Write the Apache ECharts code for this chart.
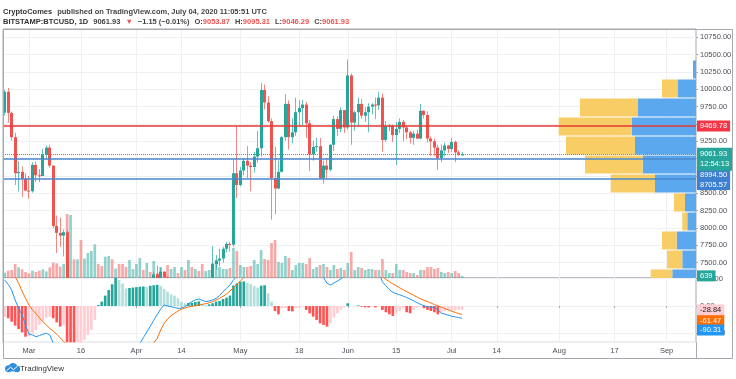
<!DOCTYPE html>
<html><head><meta charset="utf-8">
<script src="https://cdn.jsdelivr.net/npm/echarts@6/dist/echarts.min.js"></script>
<style>html,body{margin:0;padding:0;background:#fff}#c{width:736px;height:379px}</style>
</head><body><div id="c"></div>
<script>
// ---------- data (daily, 2020-02-23 .. 2020-07-04) ----------
const tickDates = ['2020-03-01','2020-03-16','2020-04-01','2020-04-14','2020-05-01','2020-05-18','2020-06-01','2020-06-15','2020-07-01','2020-07-14','2020-08-01','2020-08-17','2020-09-01'];
const tickTexts = ['Mar','16','Apr','14','May','18','Jun','15','Jul','14','Aug','17','Sep'];

const candleOpen = [
9663,9965,9660,9310,8790,8810,8710,8540,8530,8910,
8760,8750,9060,9160,8900,8030,7930,7890,7940,4860,
5620,5170,5360,5030,5330,5410,6190,6200,6190,5830,
6490,6770,6690,6750,6380,6260,5880,6400,6420,6650,
6810,6740,6870,6780,7330,7200,7370,7290,6860,6880,
6910,6850,6860,6620,7110,7040,7250,7130,6850,6870,
7130,7480,7530,7560,7700,7770,7760,8790,8620,8830,
8970,8900,8880,9030,9150,9990,9810,9540,8720,8570,
8810,9310,9790,9310,9380,9670,9730,9780,9510,9060,
9170,9180,8720,8900,8840,9200,9570,9430,9700,9450,
10200,9520,9670,9790,9620,9670,9750,9780,9770,9880,
9270,9465,9475,9340,9430,9530,9450,9380,9300,9360,
9290,9690,9630,9290,9250,9160,9010,9120,9190,9140,
9240,9090,9053.87];
const candleClose = [
9965,9660,9310,8790,8810,8710,8540,8530,8910,8760,
8750,9060,9160,8900,8030,7930,7890,7940,4860,5620,
5170,5360,5030,5330,5410,6190,6200,6190,5830,6490,
6770,6690,6750,6380,6260,5880,6400,6420,6650,6810,
6740,6870,6780,7330,7200,7370,7290,6860,6880,6910,
6850,6860,6620,7110,7040,7250,7130,6850,6870,7130,
7480,7530,7560,7700,7770,7760,8790,8620,8830,8970,
8900,8880,9030,9150,9990,9810,9540,8720,8570,8810,
9310,9790,9310,9380,9670,9730,9780,9510,9060,9170,
9180,8720,8900,8840,9200,9570,9430,9700,9450,10200,
9520,9670,9790,9620,9670,9750,9780,9770,9880,9270,
9470,9475,9340,9430,9530,9450,9380,9300,9360,9290,
9690,9630,9290,9250,9160,9010,9120,9190,9140,9240,
9090,9060,9061.93];
const candleHigh = [
9990,10020,9680,9370,8960,8890,8790,8750,8950,8960,
8850,9140,9190,9200,8900,8180,8150,7980,7970,5940,
5660,5950,5370,5560,5450,6400,6930,6450,6400,6600,
6850,6980,6780,6860,6390,6260,6600,6520,6700,7180,
7040,6990,6900,7360,7460,7420,7380,7300,6950,7190,
6910,6990,6940,7200,7150,7300,7250,7210,6940,7160,
7740,7610,7700,7730,7800,7800,8980,9470,8880,9010,
9180,8950,9100,9400,10090,10070,9900,9580,9170,8970,
9330,9930,9840,9580,9880,9840,9850,9820,9560,9260,
9300,9300,8970,9010,9210,9620,9610,9740,9700,10430,
10230,9690,9880,9860,9740,9800,9800,9880,9960,9940,
9540,9500,9490,9530,9580,9560,9480,9400,9400,9420,
9790,9700,9680,9320,9290,9200,9200,9230,9200,9300,
9260,9120,9095.31];
const candleLow = [
9620,9520,9260,8620,8530,8450,8530,8420,8510,8660,
8660,8750,8990,8870,8000,7640,7730,7590,4400,3850,
5090,5100,4440,4980,5050,5370,5700,5860,5760,5720,
6420,6470,6540,6300,6050,5870,5860,6330,6160,6600,
6620,6680,6700,6780,7100,7170,7110,6770,6780,6830,
6560,6780,6610,6470,7000,7030,7050,6790,6820,6860,
7030,7400,7450,7500,7650,7660,7730,8430,8600,8760,
8720,8530,8800,8940,9030,9710,9520,8120,8200,8560,
8800,9260,9130,9220,9330,9460,9470,9300,8820,8970,
9100,8710,8640,8710,8820,9110,9330,9380,9370,9420,
9200,9400,9460,9580,9530,9380,9640,9570,9700,9100,
9240,9400,9240,8910,9370,9250,9280,9220,9200,9280,
9280,9580,9230,9040,9040,8840,8950,9030,9080,9100,
8950,9040,9046.29];
const volume = [
1600,2200,2400,4200,3200,2600,1800,1400,2200,1800,
2200,2600,2000,3200,4600,4400,3400,4200,19200,18900,
5600,5600,11400,5800,7500,8100,10100,4200,3600,6400,
6600,5600,2800,4200,4200,3300,5400,2700,4200,6000,
2400,4500,1800,5100,1500,3300,1800,3900,2700,3300,
1500,3300,2400,5400,3300,2700,2100,4200,2100,2400,
4500,5400,3300,2700,2700,3000,9000,8100,3900,3300,
3300,3600,5400,4200,8400,5700,5400,10500,11400,4800,
4500,6600,6000,2400,3900,4500,4500,4200,6000,2700,
3300,3900,4200,3300,2400,3900,2700,3000,2400,4500,
7800,2400,3300,3000,2400,2700,2700,2400,2400,5700,
2400,1500,1500,4200,2400,2400,1800,1500,1500,900,
2400,2400,3300,3300,2700,3000,1800,1500,1800,1500,
2100,1500,639];
const macdLine = [
190,159,117,44,-17,-66,-139,-207,-212,-225,
-217,-207,-200,-212,-273,-330,-380,-410,-640,-760,
-880,-940,-1010,-1030,-1030,-950,-870,-800,-760,-680,
-590,-520,-460,-430,-410,-420,-380,-350,-310,-275,
-232,-191,-149,-105,-63,-22,7,0,-5,-12,
-17,-17,-5,15,32,44,51,42,32,37,
44,56,76,105,129,154,190,220,260,290,
310,320,330,340,380,400,400,340,290,260,
260,290,280,270,280,285,290,270,240,260,
250,235,208,166,154,168,183,198,220,280,
290,300,310,305,300,300,295,290,240,178,
148,120,100,90,82,72,62,50,38,24,
12,2,-5,-10,-8,-28,-52,-60,-67,-75,
-80,-85,-90.31];
const signalLine = [
300,290,265,215,166,110,56,7,-29,-54,
-86,-115,-139,-164,-183,-208,-232,-261,-286,-400,
-500,-580,-660,-730,-780,-810,-820,-810,-790,-770,
-740,-710,-670,-630,-590,-560,-520,-480,-450,-415,
-380,-340,-305,-270,-237,-176,-127,-95,-71,-54,
-37,-24,-15,-7,-2,2,7,12,17,24,
32,44,56,71,88,110,134,159,183,208,
235,255,270,285,300,315,325,325,320,315,
305,300,300,300,295,295,295,295,295,300,
305,310,315,317,310,295,285,275,270,268,
270,275,280,285,290,292,293,293,260,215,
195,178,162,148,133,119,105,92,79,65,
53,42,32,22,10,1,-9,-19,-29,-38,
-47,-56,-61.47];
const macdHist = [
-79,-90,-115,-144,-169,-193,-225,-217,-200,-176,
-139,-110,-86,-78,-90,-120,-151,-139,-330,-400,
-420,-380,-275,-249,-212,-176,-102,7,32,76,
117,159,230,190,165,128,132,135,138,141,
143,140,148,152,155,147,125,105,85,76,
56,32,20,22,24,30,34,15,7,12,
20,32,37,51,61,76,150,166,178,180,
170,160,145,135,149,152,93,32,-37,-61,
-17,-17,-37,-40,-17,-10,-5,-29,-54,-78,
-102,-127,-139,-151,-127,-85,-54,-29,-12,20,
2,1,5,-5,-10,-11,-5,-10,-3,-29,
-46,-61,-73,-54,-37,-17,-46,-54,-29,-12,
-5,-17,-29,-37,-46,-61,-46,-38,-33,-31,
-30,-29,-28.84];
// volume profile (visible range), price bins of 274
const vpBinLow = [10149,9875,9601,9327,9053,8779,8505,8231,7957,7683,7409,7135];
const vpBinSize = 274;
const vpUp =   [300,1800,5800,6430,6100,5330,4100,1100,870,1930,1370,2370];
const vpDown = [0,1600,5800,7300,6900,5770,4430,1100,500,1470,1530,2160];
// levels / last values
const levelResistance = 9469.78;
const levelSupport = [8994.50, 8705.57];
const lastPrice = 9061.93;
const barCountdown = '12:54:13';
const lastVolume = 639;
const lastHist = -28.84, lastSignal = -61.47, lastMacd = -90.31;

// ---------- chart ----------
const FONT = "'Liberation Sans', Arial, sans-serif";
const TXT = '#4c4f58', GRIDC = '#eef0f4', BORDER = '#a6a9b0';
const UP = '#26a69a', DOWN = '#ef5350';
const nCats = 200, day0 = Date.UTC(2020, 1, 23);
const categories = Array.from({length: nCats}, (_, i) => new Date(day0 + i * 86400000).toISOString().slice(0, 10));
const tickLabel = {}; tickDates.forEach((d, i) => tickLabel[d] = tickTexts[i]);
const isTick = (i, v) => tickLabel[v] !== undefined;

const PT = 29, PB = 278, MB = 342.3;
const priceMin = 7279, priceMax = 10870;
const macdMin = -266, macdMax = 205;

function histColor(i) {
  const v = macdHist[i], p = i > 0 ? macdHist[i - 1] : v;
  if (v >= 0) return v > p ? '#26a69a' : '#b2dfdb';
  return v < p ? '#ff5252' : '#ffcdd2';
}
const badge = (bg, fg) => ({show: true, position: 'end', distance: 1, padding: [2, 3, 1, 3], fontSize: 7.5,
  fontFamily: FONT, color: fg || '#fff', backgroundColor: bg, opacity: 1});
const hiddenLine = {color: 'rgba(0,0,0,0)', width: 1, type: 'solid'};

const catAxis = (gi, extra) => Object.assign({type: 'category', gridIndex: gi, data: categories, boundaryGap: true,
  axisLine: {show: false}, axisTick: {show: false}, axisLabel: {show: false},
  splitLine: {show: true, interval: isTick, alignWithLabel: true, lineStyle: {color: GRIDC, width: 1}}}, extra || {});

const chart = echarts.init(document.getElementById('c'));
chart.setOption({
  animation: false,
  backgroundColor: '#fff',
  textStyle: {fontFamily: FONT},
  title: [
    {left: 3, top: 3, padding: 0, text: '{b|CryptoComes} {n|published on TradingView.com, July 04, 2020 11:05:51 UTC}',
     textStyle: {rich: {b: {fontSize: 7.5, fontWeight: 'bold', color: '#333', fontFamily: FONT}, n: {fontSize: 7.5, color: '#444', fontFamily: FONT}}}},
    {left: 3, top: 13, padding: 0, text: '{b|BITSTAMP:BTCUSD, 1D} {n|9061.93} {r|▼} {n|−1.15 (−0.01%)} {n|O:}{r|9053.87} {n|H:}{r|9095.31} {n|L:}{r|9046.29} {n|C:}{r|9061.93}',
     textStyle: {rich: {b: {fontSize: 7.5, fontWeight: 'bold', color: '#333', fontFamily: FONT}, n: {fontSize: 7.5, color: '#444', fontFamily: FONT}, r: {fontSize: 7.5, color: '#ef5350', fontFamily: FONT}}}},
    {left: 20, top: 365, padding: 0, text: 'TradingView', textStyle: {fontSize: 8, fontWeight: 'normal', color: '#333', fontFamily: FONT}}
  ],
  graphic: [
    {type: 'rect', shape: {x: 3.5, y: PT + 0.5, width: 729, height: 358 - PT}, style: {fill: 'none', stroke: BORDER, lineWidth: 1}, silent: true, z: 10},
    {type: 'line', shape: {x1: 696.5, y1: MB, x2: 696.5, y2: 358.5}, style: {stroke: BORDER, lineWidth: 1}, silent: true, z: 10},
    {type: 'group', left: 4, top: 363, children: [
      {type: 'circle', shape: {cx: 4, cy: 6, r: 3.5}, style: {fill: '#2f8ddc'}},
      {type: 'circle', shape: {cx: 8.5, cy: 4.5, r: 4.2}, style: {fill: '#2f8ddc'}},
      {type: 'circle', shape: {cx: 12.5, cy: 6.3, r: 3.2}, style: {fill: '#2f8ddc'}},
      {type: 'polyline', shape: {points: [[2, 8], [6, 4.5], [9, 7], [13, 3.5]]}, style: {stroke: '#fff', lineWidth: 1, fill: null}}
    ]}
  ],
  grid: [
    {left: 3, right: 40, top: PT, height: PB - PT, show: true, borderColor: BORDER, borderWidth: 1, backgroundColor: 'transparent'},
    {left: 3, right: 40, top: PB, height: MB - PB, show: true, borderColor: BORDER, borderWidth: 1, backgroundColor: 'transparent'},
    {left: 3, right: 40, top: PT, height: PB - PT},
    {left: 3, right: 40, top: PT, height: PB - PT}
  ],
  xAxis: [
    catAxis(0),
    catAxis(1, {axisLine: {show: false},
      axisTick: {show: true, interval: isTick, alignWithLabel: true, length: 2, lineStyle: {color: BORDER}},
      axisLabel: {show: true, interval: isTick, formatter: v => tickLabel[v] || '', fontSize: 7.5, color: TXT, margin: 5, fontFamily: FONT}}),
    {type: 'category', gridIndex: 2, data: categories, boundaryGap: true, show: false},
    {type: 'value', gridIndex: 3, min: 0, max: 69300, inverse: true, show: false}
  ],
  yAxis: [
    {type: 'value', gridIndex: 0, position: 'right', min: priceMin, max: priceMax, minInterval: 250, maxInterval: 250, splitNumber: 14,
     axisLine: {show: false}, axisTick: {show: true, length: 2, lineStyle: {color: BORDER}},
     axisLabel: {formatter: v => v.toFixed(2), fontSize: 7.5, color: TXT, margin: 4, showMinLabel: false, showMaxLabel: false, fontFamily: FONT},
     splitLine: {show: true, lineStyle: {color: GRIDC}}},
    {type: 'value', gridIndex: 1, position: 'right', min: macdMin, max: macdMax, minInterval: 200, maxInterval: 200, splitNumber: 2,
     axisLine: {show: false}, axisTick: {show: true, length: 2, lineStyle: {color: BORDER}},
     axisLabel: {formatter: v => v.toFixed(2), fontSize: 7.5, color: TXT, margin: 4, showMinLabel: false, showMaxLabel: false, fontFamily: FONT},
     splitLine: {show: true, lineStyle: {color: GRIDC}}},
    {type: 'value', gridIndex: 2, min: 0, max: 74700, show: false},
    {type: 'value', gridIndex: 3, min: priceMin, max: priceMax, show: false}
  ],
  series: [
    {type: 'bar', name: 'Volume', xAxisIndex: 2, yAxisIndex: 2, barWidth: '78%', z: 1, silent: true,
     data: volume.map((v, i) => ({value: v, itemStyle: {color: candleClose[i] >= candleOpen[i] ? 'rgba(38,166,154,0.5)' : 'rgba(239,83,80,0.5)'}})),
     markLine: {symbol: 'none', silent: true, lineStyle: hiddenLine,
       data: [{yAxis: lastVolume, lineStyle: hiddenLine, label: Object.assign(badge(UP), {formatter: String(lastVolume)})}]}},
    {type: 'custom', name: 'VPVR', xAxisIndex: 3, yAxisIndex: 3, z: 2, clip: true, silent: true,
     data: vpBinLow.map((lo, i) => [vpUp[i], lo, lo + vpBinSize, vpDown[i]]),
     encode: {x: 0, y: [1, 2]},
     renderItem: (params, api) => {
       const up = api.value(0), lo = api.value(1), hi = api.value(2), dn = api.value(3);
       const pHi = api.coord([0, hi]), pLo = api.coord([0, lo]);
       const xUp = api.coord([up, hi])[0], xDn = api.coord([up + dn, hi])[0];
       const y = pHi[1] + 0.5, h = pLo[1] - pHi[1] - 1;
       return {type: 'group', children: [
         {type: 'rect', shape: {x: xUp, y: y, width: pHi[0] - xUp, height: h}, style: {fill: '#5ba8ee'}},
         {type: 'rect', shape: {x: xDn, y: y, width: xUp - xDn, height: h}, style: {fill: '#f9cd66'}}
       ]};
     }},
    {type: 'custom', name: 'BTCUSD', xAxisIndex: 0, yAxisIndex: 0, z: 3, clip: true, silent: true,
     data: candleOpen.map((o, i) => [i, o, candleClose[i], candleLow[i], candleHigh[i]]),
     encode: {x: 0, y: [1, 2, 3, 4]},
     renderItem: (params, api) => {
       const x = api.value(0), o = api.value(1), c = api.value(2), l = api.value(3), h = api.value(4);
       const pO = api.coord([x, o]), pC = api.coord([x, c]), pL = api.coord([x, l]), pH = api.coord([x, h]);
       const cx = Math.floor(pO[0]) + 0.5;
       const col = c >= o ? UP : DOWN;
       const top = Math.min(pO[1], pC[1]), hh = Math.max(1, Math.abs(pO[1] - pC[1]));
       return {type: 'group', children: [
         {type: 'line', shape: {x1: cx, y1: pH[1], x2: cx, y2: pL[1]}, style: {stroke: col, lineWidth: 1, opacity: 0.7}},
         {type: 'rect', shape: {x: cx - 1.5, y: top, width: 3, height: hh}, style: {fill: col}}
       ]};
     },
     markLine: {symbol: 'none', silent: true, data: [
       {yAxis: levelResistance, lineStyle: {color: '#e53935', width: 1.5, type: 'solid'},
        label: Object.assign(badge('#f23645'), {formatter: levelResistance.toFixed(2)})},
       {yAxis: levelSupport[0], lineStyle: {color: '#4a87cf', width: 1.5, type: 'solid'},
        label: Object.assign(badge('#3d7fd0'), {formatter: levelSupport[0].toFixed(2), offset: [0, 16]})},
       {yAxis: levelSupport[1], lineStyle: {color: '#4a87cf', width: 1.5, type: 'solid'},
        label: Object.assign(badge('#3d7fd0'), {formatter: levelSupport[1].toFixed(2), offset: [0, 5.5]})},
       {yAxis: lastPrice, lineStyle: {color: UP, width: 1, type: 'dotted'},
        label: Object.assign(badge(UP), {formatter: lastPrice.toFixed(2) + '\n' + barCountdown, lineHeight: 10, offset: [0, 5]})}
     ]}},
    {type: 'bar', name: 'Histogram', xAxisIndex: 1, yAxisIndex: 1, barWidth: '76%', z: 2, silent: true,
     data: macdHist.map((v, i) => ({value: v, itemStyle: {color: histColor(i)}})),
     markLine: {symbol: 'none', silent: true, lineStyle: hiddenLine, data: [
       {yAxis: lastHist, lineStyle: hiddenLine, label: Object.assign(badge('#ffcdd2', '#222'), {formatter: lastHist.toFixed(2)})},
       {yAxis: lastSignal, lineStyle: hiddenLine, label: Object.assign(badge('#ff6d00'), {formatter: lastSignal.toFixed(2), offset: [0, 6.3]})},
       {yAxis: lastMacd, lineStyle: hiddenLine, label: Object.assign(badge('#2196f3'), {formatter: lastMacd.toFixed(2), offset: [0, 11.7]})}
     ]}},
    {type: 'line', name: 'MACD', xAxisIndex: 1, yAxisIndex: 1, data: macdLine, showSymbol: false, silent: true, clip: true, z: 3,
     lineStyle: {color: '#2196f3', width: 1}},
    {type: 'line', name: 'Signal', xAxisIndex: 1, yAxisIndex: 1, data: signalLine, showSymbol: false, silent: true, clip: true, z: 3,
     lineStyle: {color: '#ff6d00', width: 1}}
  ]
});
</script></body></html>
